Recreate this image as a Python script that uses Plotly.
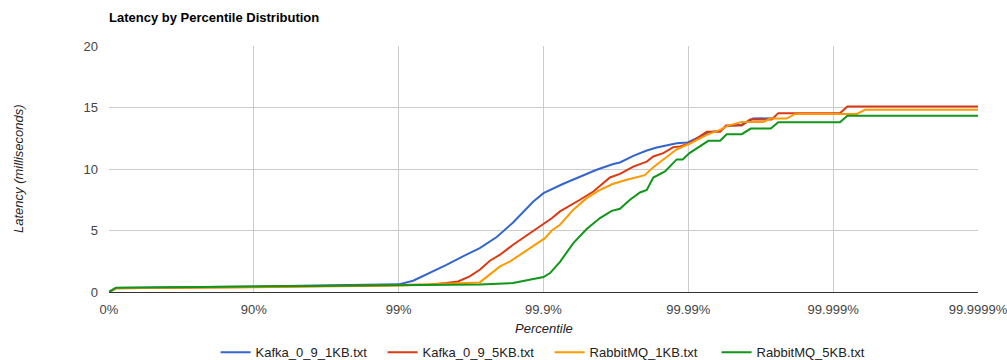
import plotly.graph_objects as go

# x values expressed as "number of nines" = log10(1/(1-p)); 0 -> 0%, 1 -> 90%, 2 -> 99% ...
tick_nines = [0, 1, 2, 3, 4, 5, 6]
tick_labels = ["0%", "90%", "99%", "99.9%", "99.99%", "99.999%", "99.9999%"]
y_ticks = [0, 5, 10, 15, 20]

kafka_1kb_x = [0, 0.048, 1.0, 2.0, 2.10, 2.216, 2.33, 2.444, 2.56, 2.677, 2.79, 2.93, 3.0,
               3.137, 3.252, 3.367, 3.482, 3.528, 3.62, 3.713, 3.782, 3.851, 3.92, 3.989, 4.0,
               4.077, 4.138, 4.219, 4.265, 4.369, 4.447, 4.585]
kafka_1kb_y = [0, 0.33, 0.45, 0.62, 0.92, 1.54, 2.2, 2.9, 3.57, 4.47, 5.65, 7.36, 8.04,
               8.8, 9.39, 9.94, 10.4, 10.53, 11.07, 11.5, 11.75, 11.91, 12.1, 12.15, 12.18,
               12.6, 13.0, 13.1, 13.5, 13.6, 14.1, 14.13]

kafka_5kb_x = [0, 0.048, 1.0, 2.0, 2.216, 2.33, 2.41, 2.49, 2.56, 2.63, 2.70, 2.79, 2.907, 3.0,
               3.057, 3.114, 3.183, 3.252, 3.344, 3.413, 3.459, 3.528, 3.62, 3.713, 3.758,
               3.827, 3.896, 3.943, 3.989, 4.008, 4.077, 4.127, 4.219, 4.26, 4.369, 4.426,
               4.576, 4.621, 5.047, 5.098, 6.0]
kafka_5kb_y = [0, 0.3, 0.4, 0.54, 0.6, 0.73, 0.86, 1.27, 1.81, 2.54, 3.03, 3.84, 4.79, 5.6,
               6.0, 6.55, 7.0, 7.5, 8.17, 8.85, 9.31, 9.6, 10.2, 10.6, 11.02,
               11.29, 11.78, 11.83, 12.0, 12.1, 12.64, 13.02, 13.02, 13.53, 13.53, 14.02,
               14.02, 14.54, 14.54, 15.08, 15.08]

rabbit_1kb_x = [0, 0.048, 1.0, 2.0, 2.56, 2.63, 2.70, 2.77, 2.84, 2.93, 3.01, 3.057, 3.114,
                3.206, 3.298, 3.39, 3.482, 3.574, 3.666, 3.70, 3.758, 3.839, 3.92, 4.008,
                4.127, 4.219, 4.276, 4.369, 4.518, 4.564, 4.679, 4.737, 5.163, 5.22, 6.0]
rabbit_1kb_y = [0, 0.3, 0.38, 0.52, 0.78, 1.4, 2.08, 2.49, 3.03, 3.7, 4.38, 5.0, 5.47,
                6.69, 7.63, 8.31, 8.8, 9.12, 9.4, 9.5, 10.15, 10.88, 11.6, 12.05,
                12.78, 13.18, 13.53, 13.83, 13.83, 14.1, 14.1, 14.48, 14.48, 14.81, 14.81]

rabbit_5kb_x = [0, 0.048, 1.0, 2.0, 2.56, 2.79, 2.86, 2.93, 3.0, 3.045, 3.114, 3.206, 3.298,
                3.39, 3.471, 3.528, 3.597, 3.666, 3.713, 3.758, 3.839, 3.92, 3.961, 4.008,
                4.138, 4.219, 4.265, 4.369, 4.431, 4.569, 4.621, 5.047, 5.098, 6.0]
rabbit_5kb_y = [0, 0.35, 0.45, 0.55, 0.6, 0.73, 0.86, 1.05, 1.22, 1.54, 2.45, 3.98, 5.12,
                6.01, 6.6, 6.77, 7.5, 8.09, 8.3, 9.3, 9.8, 10.78, 10.78, 11.29,
                12.29, 12.29, 12.83, 12.83, 13.29, 13.29, 13.81, 13.81, 14.32, 14.32]

series = [
    ("Kafka_0_9_1KB.txt", kafka_1kb_x, kafka_1kb_y, "#3366cc"),
    ("Kafka_0_9_5KB.txt", kafka_5kb_x, kafka_5kb_y, "#dc3912"),
    ("RabbitMQ_1KB.txt", rabbit_1kb_x, rabbit_1kb_y, "#ff9900"),
    ("RabbitMQ_5KB.txt", rabbit_5kb_x, rabbit_5kb_y, "#109618"),
]

font_family = "Liberation Sans, Arial, sans-serif"

fig = go.Figure()
for name, xs, ys, color in series:
    fig.add_trace(go.Scatter(x=xs, y=ys, mode="lines", name=name,
                             line=dict(color=color, width=2)))

fig.update_layout(
    width=1007, height=360,
    margin=dict(l=109, r=29, t=46, b=68, autoexpand=False),
    paper_bgcolor="white", plot_bgcolor="white",
    font=dict(family=font_family, size=13, color="#444444"),
    title=dict(text="<b>Latency by Percentile Distribution</b>",
               font=dict(family=font_family, size=13, color="#000000"),
               xref="paper", x=0, xanchor="left",
               yref="container", y=1 - 17 / 360, yanchor="middle"),
    showlegend=True,
    legend=dict(orientation="h", xref="paper", yref="paper", x=0.507, xanchor="center",
                y=-0.245, yanchor="middle", font=dict(size=13, color="#222222"),
                itemwidth=30, tracegroupgap=0,
                entrywidth=122, entrywidthmode="pixels"),
    annotations=[
        dict(text="<i>Percentile</i>", xref="paper", yref="paper", x=0.5, y=-0.15,
             showarrow=False, xanchor="center", yanchor="middle",
             font=dict(size=13, color="#222222")),
        dict(text="<i>Latency (milliseconds)</i>", xref="paper", yref="paper",
             x=-0.1047, y=0.5, textangle=-90, showarrow=False,
             xanchor="center", yanchor="middle", font=dict(size=13, color="#222222")),
    ],
)

fig.update_xaxes(range=[0, 6], tickmode="array", tickvals=tick_nines, ticktext=tick_labels,
                 showgrid=True, gridcolor="#cccccc", gridwidth=1, zeroline=False,
                 showline=False, ticks="", fixedrange=True, ticklabeloverflow="allow",
                 ticklabelstandoff=8)
fig.update_yaxes(range=[0, 20], tickmode="array", tickvals=y_ticks,
                 showgrid=True, gridcolor="#cccccc", gridwidth=1,
                 zeroline=True, zerolinecolor="#333333", zerolinewidth=1,
                 showline=False, ticks="", ticklabelstandoff=10, fixedrange=True)

fig.write_html("out.html")
